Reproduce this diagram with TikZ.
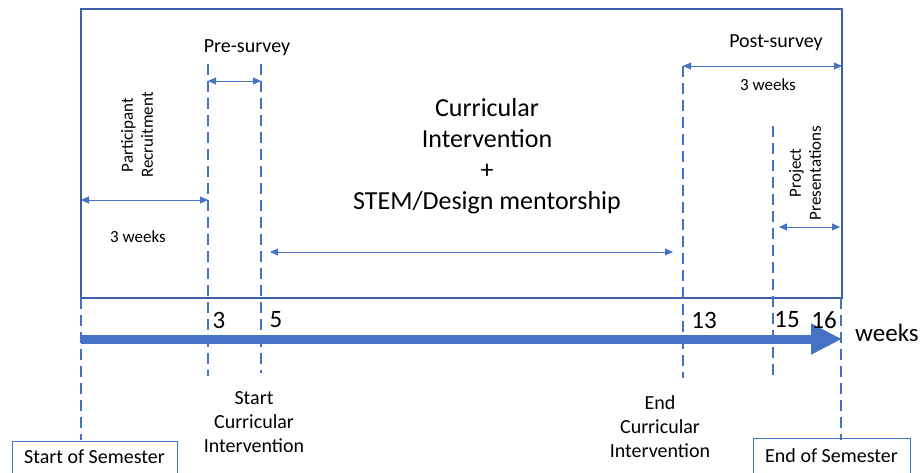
\documentclass[tikz,border=0pt]{standalone}
\usepackage{fontspec}
\setmainfont{Carlito}
\usetikzlibrary{arrows.meta}
\definecolor{tlblue}{RGB}{68,114,196}
\definecolor{frameblue}{RGB}{62,96,166}
\begin{document}
\begin{tikzpicture}[x=1pt,y=-1pt,
  guide/.style={draw=tlblue, dash pattern=on 11pt off 6pt, line width=1.2pt},
  span/.style={draw=tlblue, line width=0.9pt,
    {Triangle[length=8pt,width=7pt]}-{Triangle[length=8pt,width=7pt]}},
  txt/.style={inner sep=0pt, align=center, font=\fontsize{20}{24}\selectfont},
  small/.style={inner sep=0pt, align=center, font=\fontsize{17}{20}\selectfont},
  big/.style={inner sep=0pt, align=center, font=\fontsize{26}{31}\selectfont},
  num/.style={inner sep=0pt, font=\fontsize{25}{29}\selectfont},
  sembox/.style={draw=tlblue, line width=0.8pt, minimum width=165pt,
    minimum height=40pt, inner sep=0pt, font=\fontsize{20}{24}\selectfont}
]
\useasboundingbox (0,0) rectangle (924,473);

% frame around the phases
\draw[frameblue, line width=1.5pt] (81,9) rectangle (842,298);

% week markers
\coordinate (w0t) at (81,298);   \coordinate (w0b) at (81,440);
\coordinate (w3t) at (208,64);   \coordinate (w3b) at (208,376);
\coordinate (w5t) at (261,64);   \coordinate (w5b) at (261,373);
\coordinate (w13t) at (683,66);  \coordinate (w13b) at (683,378);
\coordinate (w15t) at (773,126); \coordinate (w15b) at (773,379);
\coordinate (w16t) at (841,298); \coordinate (w16b) at (841,440);
\foreach \w in {w0,w3,w5,w13,w15,w16}
  \draw[guide] (\w t) -- (\w b);

% time axis
\coordinate (axs) at (81,339);
\coordinate (axe) at (842,339);
\draw[tlblue, line width=9pt, -{Triangle[length=31pt,width=29pt]}] (axs) -- (axe);
\node[anchor=west, inner sep=0pt, font=\fontsize{25}{30}\selectfont] (weeks) at (855,333) {weeks};

% week numbers
\node[num] (n3) at (219,320) {3};
\node[num] (n5) at (276,320) {5};
\node[num] (n13) at (704,320) {13};
\node[num] (n15) at (787,320) {15};
\node[num] (n16) at (824,320) {16};

% durations
\coordinate (preA) at (208,81);  \coordinate (preB) at (261,81);
\draw[span] (preA) -- (preB);
\coordinate (recA) at (81,200);  \coordinate (recB) at (208,200);
\draw[span] (recA) -- (recB);
\coordinate (curA) at (270,252); \coordinate (curB) at (673,252);
\draw[span] (curA) -- (curB);
\coordinate (posA) at (683,66);  \coordinate (posB) at (842,66);
\draw[span] (posA) -- (posB);
\coordinate (proA) at (779,227); \coordinate (proB) at (840,227);
\draw[span] (proA) -- (proB);

% phase labels
\node[txt] (pre) at (247,48) {Pre-survey};
\node[small, rotate=90] (rec) at (137,135) {Participant\\Recruitment};
\node[small] (rw) at (138,237) {3 weeks};
\node[big] (cur) at (487,156) {Curricular\\Intervention\\+\\STEM/Design mentorship};
\node[txt] (post) at (776,43) {Post-survey};
\node[small] (pw) at (768,85) {3 weeks};
\node[small, rotate=90] (proj) at (805,173) {Project\\Presentations};

% milestones below the axis
\node[txt] (sci) at (254,422) {Start\\Curricular\\Intervention};
\node[txt] (eci) at (660,427) {End\\Curricular\\Intervention};
\node[sembox] (sos) at (94.5,461) {};
\node[inner sep=0pt, font=\fontsize{20}{24}\selectfont] at (94.5,457) {Start of Semester};
\node[sembox, minimum width=157pt] (eos) at (831.5,458) {};
\node[inner sep=0pt, font=\fontsize{20}{24}\selectfont] at (831.5,456) {End of Semester};
\end{tikzpicture}
\end{document}
